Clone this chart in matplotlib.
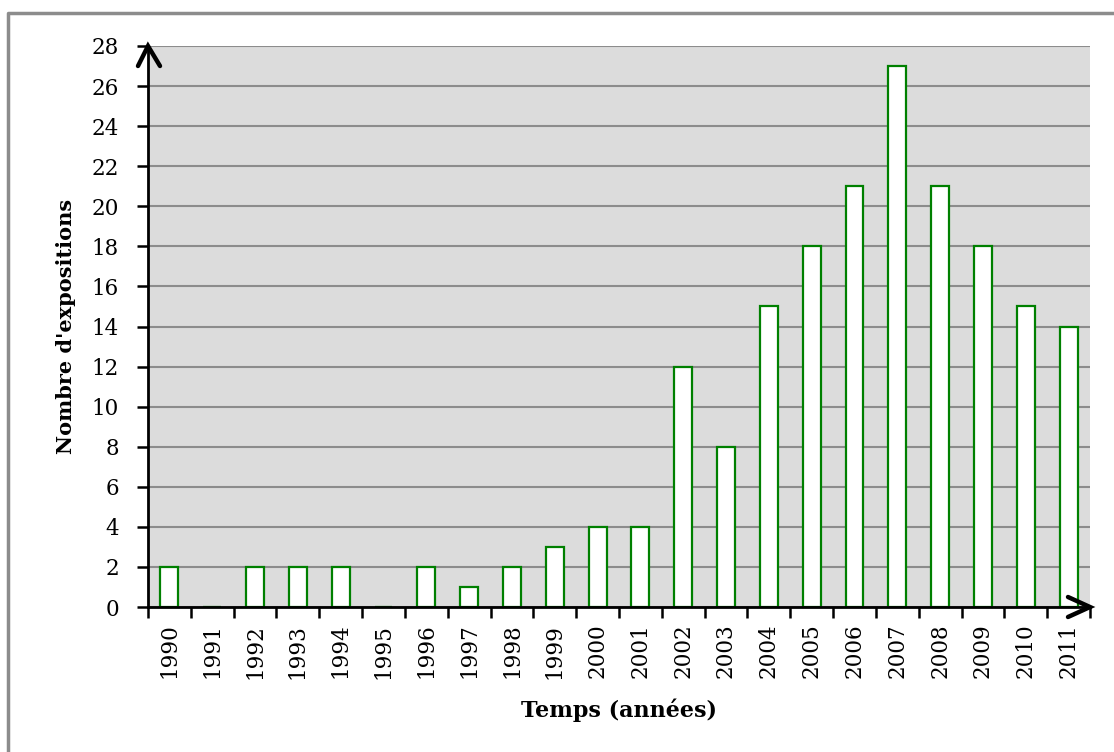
import matplotlib
matplotlib.use("Agg")
import matplotlib.pyplot as plt
from matplotlib.lines import Line2D

years = ["1990", "1991", "1992", "1993", "1994", "1995", "1996", "1997", "1998", "1999", "2000",
         "2001", "2002", "2003", "2004", "2005", "2006", "2007", "2008", "2009", "2010", "2011"]
counts = [2, 0, 2, 2, 2, 0, 2, 1, 2, 3, 4, 4, 12, 8, 15, 18, 21, 27, 21, 18, 15, 14]
yticks = list(range(0, 29, 2))

plt.rcParams['font.family'] = ['DejaVu Serif']

W, H = 1114, 752
fig = plt.figure(figsize=(W/100, H/100), dpi=100)
L, R, T, B = 148, 1090, 46, 607
ax = fig.add_axes([L/W, 1-B/H, (R-L)/W, (B-T)/H])

ax.set_facecolor('#dcdcdc')
x = list(range(len(years)))
ax.bar(x, counts, width=0.42, color='white', edgecolor='#008000', linewidth=1.6, zorder=3)

ax.set_xlim(-0.5, len(years) - 0.5)
ax.set_ylim(0, 28)
ax.set_yticks(yticks)
ax.set_yticklabels([str(v) for v in yticks], fontsize=15.5)
ax.yaxis.grid(True, color='#8c8c8c', linewidth=1.5, zorder=1)
ax.set_axisbelow(True)

ax.set_xticks([i - 0.5 for i in range(len(years) + 1)])
ax.set_xticklabels([])
ax.set_xticks(x, minor=True)
ax.set_xticklabels(years, minor=True, rotation=90, fontsize=15.5)
ax.tick_params(axis='x', which='minor', length=0, pad=12)
ax.tick_params(axis='x', which='major', length=8, width=1.8, direction='out')
ax.tick_params(axis='y', length=8, width=1.8, direction='out', pad=13)

for s in ['top', 'right']:
    ax.spines[s].set_visible(False)
for s in ['left', 'bottom']:
    ax.spines[s].set_linewidth(2)
    ax.spines[s].set_zorder(5)

def fx(px):
    return px / W

def fy(py):
    return 1 - py / H

# axis arrow chevrons (pixel geometry)
fig.add_artist(Line2D([fx(138), fx(L), fx(160)], [fy(66), fy(T), fy(66)], transform=fig.transFigure,
                      color='black', linewidth=3.2, solid_capstyle='round', solid_joinstyle='miter'))
fig.add_artist(Line2D([fx(1068), fx(R), fx(1068)], [fy(597), fy(B), fy(617)], transform=fig.transFigure,
                      color='black', linewidth=3.2, solid_capstyle='round', solid_joinstyle='miter'))

ax.set_ylabel("Nombre d'expositions", fontsize=15, fontweight='bold')
ax.set_xlabel("Temps (années)", fontsize=16, fontweight='bold')
ax.yaxis.set_label_coords((76 - L) / (R - L), 0.5)
ax.xaxis.set_label_coords(0.5, (B - 699) / (B - T))

# outer border (left & top)
fig.add_artist(Line2D([fx(8), fx(8), 1.0], [0.0, fy(13), fy(13)], transform=fig.transFigure,
                      color='#8c8c8c', linewidth=2.5))

fig.savefig('out.png', dpi=100)
